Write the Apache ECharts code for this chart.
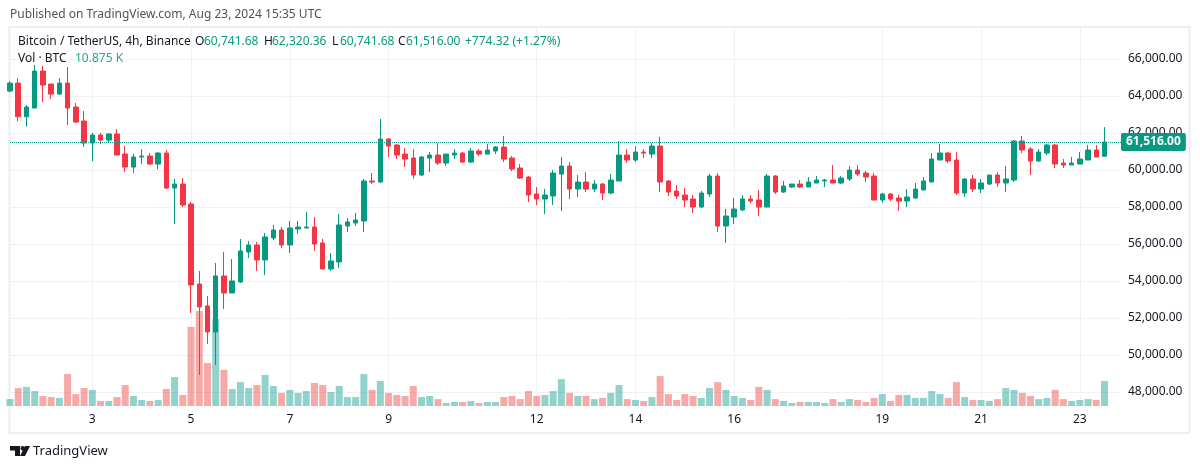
<!DOCTYPE html>
<html>
<head>
<meta charset="utf-8">
<style>html,body{margin:0;padding:0;background:#fff}#chart{width:1200px;height:469px}</style>
<script src="https://cdn.jsdelivr.net/npm/echarts@6/dist/echarts.min.js"></script>
</head>
<body>
<div id="chart"></div>
<script>
// 4h candles
var opens = [64270,64703,62883,63351,65351,64649,64108,64703,63405,62648,
    61459,61892,61621,61946,60864,60162,60702,60756,60324,60919,
    59026,59243,58163,53838,52649,51244,54271,53352,53947,55568,
    55947,55136,56325,56758,55947,56812,56866,56920,56055,54649,
    55028,56974,57136,57244,59405,59351,61675,61351,60864,60648,
    59729,60648,60810,60378,60810,60918,60432,61027,60864,61027,
    61243,60648,60108,59621,58702,58432,58594,59783,60216,58972,
    59351,58972,59243,58756,59405,60811,60540,60973,60865,61297,
    59405,58864,58648,58432,58000,58702,59675,56973,57459,57838,
    58432,58378,58000,59676,58811,59081,59243,59081,59297,59406,
    59460,59297,59514,60000,59838,59676,58378,58703,58486,58324,
    58486,58919,59351,60541,60919,60541,58757,59514,58973,59243,
    59730,59297,59459,61568,61135,60487,60919,61352,60378,60270,
    60324,60541,61081,60741.68];
var closes = [64700,62883,63405,65351,64595,64108,64703,63351,62594,61459,
    61892,61621,61946,60810,60162,60702,60756,60324,60919,59026,
    59243,58108,53785,52595,51244,54271,53352,54001,55622,55947,
    55136,56379,56758,55947,56866,56920,56920,56001,54649,55082,
    57028,57190,57298,59406,59351,61675,61297,60810,60594,59729,
    60702,60810,60378,60864,60918,60432,61027,60864,61081,61243,
    60594,60053,59567,58648,58432,58648,59837,60216,58972,59351,
    58972,59243,58756,59459,60811,60540,60973,60919,61297,59351,
    58810,58594,58378,58000,58756,59675,56972,57513,57892,58432,
    58324,58000,59676,58811,59135,59243,59081,59351,59460,59460,
    59297,59568,60000,59784,59622,58378,58703,58432,58324,58541,
    58973,59405,60595,60919,60487,58757,59514,58973,59297,59730,
    59297,59514,61568,61081,60487,60973,61352,60324,60270,60378,
    60595,61081,60703,61516];
var lows = [64200,62648,62342,63351,63675,63838,64054,62432,62540,61243,
    60486,61405,61459,60810,59892,59837,60324,60270,60053,58972,
    57082,58000,52271,48919,50595,49460,52487,53352,53893,55244,
    54541,54325,56217,55785,55514,56541,56866,55622,54649,54541,
    54703,56649,56973,56649,59243,59297,60702,60594,60162,59513,
    59675,59891,60270,60216,60594,60378,60378,60756,60864,60864,
    60432,59945,59513,58270,58107,57621,58107,57783,58432,58540,
    58810,58810,58378,58702,59405,60378,60432,60648,60648,58810,
    58594,58432,58000,57675,57945,58540,56648,56054,57081,57784,
    58216,57513,58000,58703,58757,59027,59027,59081,59297,59081,
    59297,59243,59405,59676,59351,58378,58216,58324,57784,58000,
    58432,58919,59351,60541,60378,58649,58540,58811,58757,59189,
    59081,58811,59351,60919,59730,60433,60811,60108,60108,60270,
    60324,60541,60703,60741.68];
var highs = [64800,64973,63513,65676,65622,64649,64973,65568,63621,63189,
    62000,62000,62000,62216,61297,60864,61135,60918,60972,61081,
    59513,59567,58271,54541,53190,54974,55568,55190,56271,56163,
    56109,56595,57028,56920,57244,57244,57731,57460,56271,55514,
    57623,57406,57676,59514,59837,62756,61729,61405,61189,61135,
    60756,60972,61459,60864,61135,60972,61189,61135,61405,61297,
    61837,60756,60324,59675,59080,58972,60000,60702,60432,59729,
    59891,59459,59297,59783,61567,61135,61297,61135,61459,61784,
    59459,59189,59027,58648,58864,59783,59837,57892,58486,58649,
    58649,58919,59784,59730,59405,59243,59460,59622,59676,59514,
    60270,59676,60216,60270,59946,59838,58757,58757,58649,58973,
    59297,59622,60919,61406,60973,60973,59568,59730,59514,59730,
    59892,60216,61622,61838,61243,61135,61406,61406,60595,60703,
    60973,61352,61352,62320.36];
// volume in thousands of BTC
var volumes = [3,7.8,8.3,6.5,4.35,3.9,3.5,13.9,5.2,7.8,
    7,2.2,2.2,3.9,9.1,4.35,2.6,2.2,2.6,7.4,
    12.6,4.8,34.4,41.3,18.7,37.8,15.7,7.4,10.4,7.8,
    9.1,13.5,8.7,5.7,7,5.7,6.5,10,9.1,6.1,
    8.7,3.9,3.9,13.9,7,10.9,5.7,4.8,4.35,8.7,
    3.9,4.35,3,1.3,1.74,1.74,2.2,1.3,1.74,1.74,
    3.9,4.35,3,6.5,4.35,4.8,6.5,11.7,5.7,4.35,
    4.35,3,3.5,5.7,9.1,3,2.6,2.2,3.9,13,
    5.2,2.6,5.2,4.35,3.5,7.8,10.4,7,4.35,3.5,
    2.6,8.3,7,3,2.2,1.3,1.74,1.74,1.74,1.3,
    3,1.74,3,2.6,1.74,3.5,5.2,2.2,4.8,4.8,
    3.5,3.5,6.5,5.2,3.5,10.4,3.9,2.6,2.6,2.2,
    3,7.8,7,5.7,4.35,3,3.5,7,3,2.2,
    2.6,3,2.6,10.875];
var dayLabels = ['3', '5', '7', '9', '12', '14', '16', '19', '21', '23'];
var dayIndexes = [10, 22, 34, 46, 64, 76, 88, 106, 118, 130];
var priceTicks = [48000, 50000, 52000, 54000, 56000, 58000, 60000, 62000, 64000, 66000];
var lastPrice = 61516;
var lastVolume = 10.875;

var UP = '#089981', DOWN = '#f23645';
var FONT = '"Noto Sans", sans-serif';

// two empty slots after the last candle, same as the gap in front of the price scale
var categories = [];
for (var i = 0; i < opens.length + 2; i++) {
    var pos = dayIndexes.indexOf(i);
    categories.push(pos >= 0 ? dayLabels[pos] : '');
}
var candleData = opens.map(function (o, i) {
    return [o, closes[i], lows[i], highs[i]];
});
var volumeData = volumes.map(function (v, i) {
    return {
        value: v,
        itemStyle: {color: closes[i] >= opens[i] ? 'rgba(38,166,154,0.5)' : 'rgba(239,83,80,0.5)'}
    };
});
function isDayTick(index) {
    return dayIndexes.indexOf(index) >= 0;
}

function headText(x, y, text, fill, size) {
    return {
        type: 'text', x: x, y: y, silent: true, z: 20,
        style: {text: text, fill: fill, font: (size || 12) + 'px ' + FONT, textVerticalAlign: 'middle'}
    };
}

var myChart = echarts.init(document.getElementById('chart'));
var option = {
    animation: false,
    backgroundColor: '#ffffff',
    grid: {left: 10, top: 28, width: 1111, height: 378, containLabel: false},
    xAxis: {
        type: 'category',
        data: categories,
        boundaryGap: false,
        axisLine: {show: false},
        axisTick: {show: false},
        axisLabel: {
            interval: function (index) { return isDayTick(index); },
            color: '#131722', fontFamily: FONT, fontSize: 12, margin: 8
        },
        splitLine: {
            show: true,
            interval: function (index) { return isDayTick(index); },
            lineStyle: {color: '#f0f1f4', width: 1}
        }
    },
    yAxis: [
        {
            type: 'value',
            position: 'right',
            min: 47240,
            max: 67680,
            axisLine: {show: false},
            axisTick: {show: false, customValues: priceTicks},
            axisLabel: {
                customValues: priceTicks,
                color: '#131722', fontFamily: FONT, fontSize: 12, margin: 7,
                formatter: function (v) {
                    return v.toLocaleString('en-US', {minimumFractionDigits: 2});
                }
            },
            splitLine: {show: true, lineStyle: {color: '#f0f1f4', width: 1}}
        },
        {
            type: 'value',
            show: false,
            min: 0,
            max: 164.4,
            splitLine: {show: false}
        }
    ],
    series: [
        {
            name: 'Vol',
            type: 'bar',
            yAxisIndex: 1,
            barWidth: 7,
            z: 2,
            data: volumeData,
            markLine: {
                silent: true,
                symbol: 'none',
                lineStyle: {opacity: 0},
                label: {
                    position: 'end', distance: 0, formatter: '10.875 K',
                    color: '#fff', fontFamily: FONT, fontSize: 12, fontWeight: 'bold',
                    backgroundColor: '#22ab94', padding: [2, 5], borderRadius: 2
                },
                data: [{yAxis: lastVolume}]
            }
        },
        {
            name: 'BTCUSDT',
            type: 'candlestick',
            barWidth: 5,
            z: 3,
            data: candleData,
            itemStyle: {color: UP, color0: DOWN, borderColor: UP, borderColor0: DOWN, borderWidth: 1},
            markLine: {
                silent: true,
                symbol: 'none',
                lineStyle: {color: UP, type: 'dotted', width: 1},
                label: {
                    position: 'end', distance: 0, formatter: '61,516.00',
                    color: '#fff', fontFamily: FONT, fontSize: 12, fontWeight: 'bold',
                    backgroundColor: UP, padding: [3, 5], borderRadius: 2
                },
                data: [{yAxis: lastPrice}]
            }
        }
    ],
    graphic: [
        // outer frame
        {type: 'rect', silent: true, z: 1,
            shape: {x: 9.5, y: 27, width: 1180, height: 406},
            style: {fill: 'none', stroke: '#eceef3', lineWidth: 2}},
        headText(10, 14.5, 'Published on TradingView.com, Aug 23, 2024 15:35 UTC', '#50535e'),
        headText(18, 41.5, 'Bitcoin / TetherUS, 4h, Binance', '#131722'),
        headText(195, 41.5, 'O', '#131722'),
        headText(204, 41.5, '60,741.68', UP),
        headText(264, 41.5, 'H', '#131722'),
        headText(272, 41.5, '62,320.36', UP),
        headText(332, 41.5, 'L', '#131722'),
        headText(340, 41.5, '60,741.68', UP),
        headText(398, 41.5, 'C', '#131722'),
        headText(406, 41.5, '61,516.00', UP),
        headText(465, 41.5, '+774.32 (+1.27%)', UP),
        headText(18, 58.5, 'Vol \u00b7 BTC', '#131722'),
        headText(75, 58.5, '10.875 K', '#22ab94'),
        // TradingView mark
        {type: 'polygon', silent: true, shape: {points: [[10, 446], [20, 446], [20, 456], [15, 456], [15, 450.5], [10, 450.5]]}, style: {fill: '#131722'}},
        {type: 'circle', silent: true, shape: {cx: 22.7, cy: 448.2, r: 2.2}, style: {fill: '#131722'}},
        {type: 'polygon', silent: true, shape: {points: [[25, 446], [30, 446], [25, 456], [20, 456]]}, style: {fill: '#131722'}},
        headText(33, 451.5, 'TradingView', '#131722', 13)
    ]
};
myChart.setOption(option);
</script>
</body>
</html>
